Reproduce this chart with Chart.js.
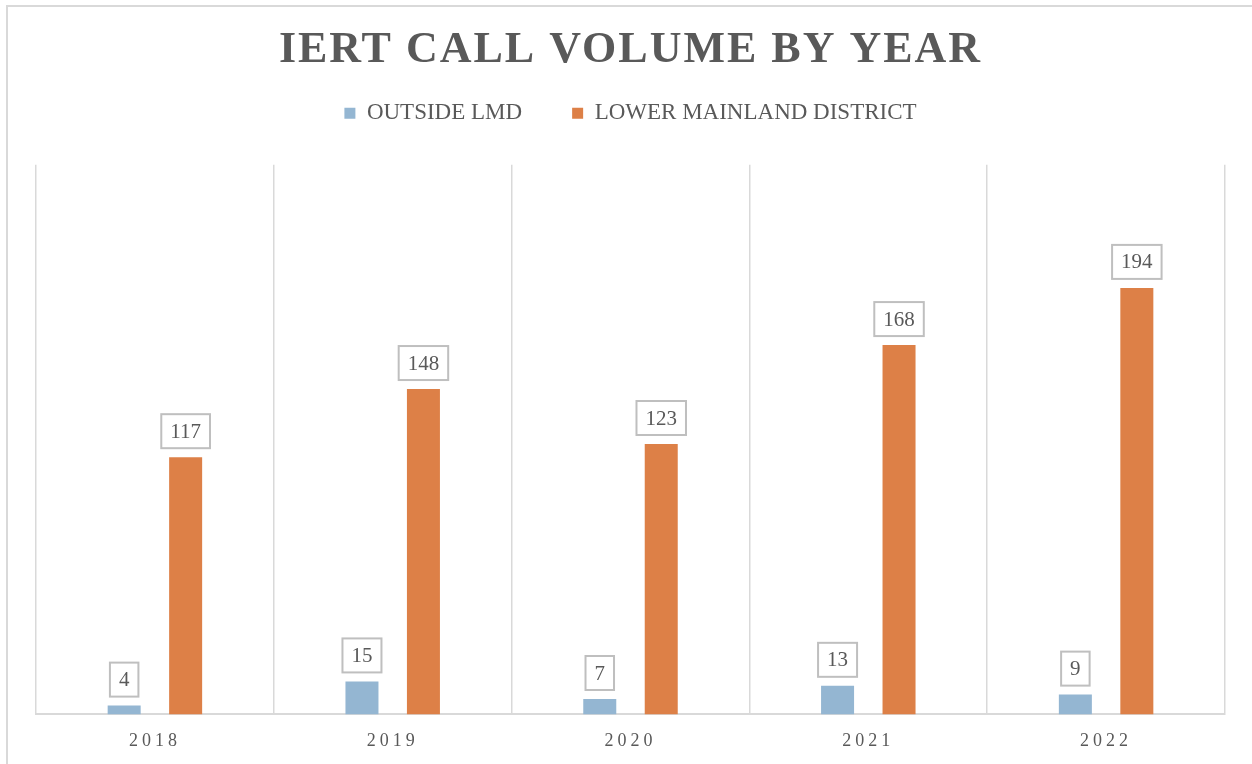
<!DOCTYPE html>
<html>
<head>
<meta charset="utf-8">
<script src="https://cdn.jsdelivr.net/npm/chart.js@4.4.1/dist/chart.umd.min.js"></script>
<style>
  html, body { margin: 0; padding: 0; background: #fff; overflow: hidden; }
  #wrap { position: relative; width: 1252px; height: 764px; }
  #frame {
    position: absolute; left: 6px; top: 5px; width: 1300px; height: 800px;
    border: 2px solid #d9d9d9; box-sizing: border-box;
  }
  canvas { position: absolute; left: 0; top: 0; }
</style>
</head>
<body>
<div id="wrap">
  <div id="frame"></div>
  <canvas id="callChart" width="1252" height="764"></canvas>
</div>
<script>
const years = ['2018', '2019', '2020', '2021', '2022'];
const outsideLmd = [4, 15, 7, 13, 9];
const lowerMainland = [117, 148, 123, 168, 194];
const seriesNames = ['OUTSIDE LMD', 'LOWER MAINLAND DISTRICT'];

const SERIF = '"Liberation Serif", "Times New Roman", serif';
const GREY = '#595959';

// canvas letterSpacing is not exposed by Chart.js, so wrap the draw method
function addSpacing(obj, method, spacing) {
    if (!obj || obj['_spaced_' + method]) return;
    const orig = obj[method];
    obj[method] = function (...args) {
        const ctx = this.ctx;
        ctx.save();
        ctx.letterSpacing = spacing;
        orig.apply(this, args);
        ctx.restore();
    };
    obj['_spaced_' + method] = true;
}

const spacedText = {
    id: 'spacedText',
    beforeLayout(chart) {
        // extra room between the legend row and the plot
        const lg = chart.legend;
        if (lg && !lg._extraGap) {
            const fit = lg.fit;
            lg.fit = function () {
                fit.call(this);
                this.height += 30;
            };
            lg._extraGap = true;
        }
    },
    afterLayout(chart) {
        addSpacing(chart.titleBlock, 'draw', '2px');
        addSpacing(chart.scales.x, 'drawLabels', '4px');
    }
};

// value labels in small outlined boxes above each bar
const boxedValues = {
    id: 'boxedValues',
    afterDatasetsDraw(chart) {
        const ctx = chart.ctx;
        ctx.save();
        ctx.font = '21px ' + SERIF;
        ctx.textAlign = 'center';
        ctx.textBaseline = 'middle';
        chart.data.datasets.forEach((ds, i) => {
            chart.getDatasetMeta(i).data.forEach((bar, j) => {
                const txt = String(ds.data[j]);
                const w = ctx.measureText(txt).width + 18;
                const h = 34;
                const x = bar.x - w / 2;
                const y = bar.y - 9 - h;
                ctx.fillStyle = '#fff';
                ctx.fillRect(x, y, w, h);
                ctx.strokeStyle = '#bfbfbf';
                ctx.lineWidth = 2;
                ctx.strokeRect(x, y, w, h);
                ctx.fillStyle = GREY;
                ctx.fillText(txt, bar.x, y + h / 2 + 1);
            });
        });
        ctx.restore();
    }
};

new Chart(document.getElementById('callChart'), {
    type: 'bar',
    data: {
        labels: years,
        datasets: [
            {
                label: seriesNames[0],
                data: outsideLmd,
                backgroundColor: '#94b6d2',
                categoryPercentage: 0.517,
                barPercentage: 0.537
            },
            {
                label: seriesNames[1],
                data: lowerMainland,
                backgroundColor: '#dd8047',
                categoryPercentage: 0.517,
                barPercentage: 0.537
            }
        ]
    },
    options: {
        responsive: false,
        animation: false,
        layout: { padding: { left: 36, right: 27, top: 0, bottom: -4 } },
        plugins: {
            title: {
                display: true,
                text: 'IERT CALL VOLUME BY YEAR',
                color: GREY,
                font: { family: SERIF, size: 44, weight: 'bold' },
                padding: { top: 24, bottom: -25 }
            },
            legend: {
                position: 'top',
                labels: {
                    color: GREY,
                    font: { family: SERIF, size: 23 },
                    boxWidth: 11,
                    boxHeight: 11,
                    padding: 50
                }
            },
            tooltip: { enabled: false }
        },
        scales: {
            x: {
                grid: { color: '#d9d9d9', lineWidth: 1.5, drawTicks: false, offset: true },
                border: { color: '#d9d9d9', width: 2 },
                ticks: {
                    color: GREY,
                    font: { family: SERIF, size: 18 },
                    padding: 16,
                    maxRotation: 0
                }
            },
            y: {
                display: false,
                min: 0,
                max: 250
            }
        }
    },
    plugins: [spacedText, boxedValues]
});
</script>
</body>
</html>
